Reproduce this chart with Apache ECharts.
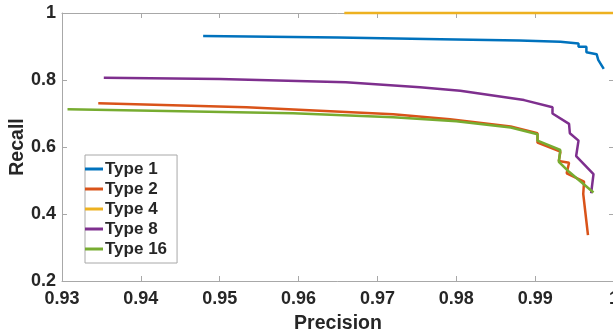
<!DOCTYPE html>
<html>
<head>
<meta charset="utf-8">
<script src="https://cdn.jsdelivr.net/npm/echarts@6/dist/echarts.min.js"></script>
<style>
html,body{margin:0;padding:0;background:#fff;}
#c{width:613px;height:335px;}
</style>
</head>
<body>
<div id="c"></div>
<script>
const seriesNames = ['Type 1', 'Type 2', 'Type 4', 'Type 8', 'Type 16'];
const xTickLabels = ['0.93', '0.94', '0.95', '0.96', '0.97', '0.98', '0.99', '1'];
const yTickLabels = ['0.2', '0.4', '0.6', '0.8', '1'];

const type1 = [[0.9479,0.931],[0.965,0.927],[0.978,0.922],[0.988,0.918],[0.9932,0.914],[0.9955,0.909],[0.9955,0.899],[0.9965,0.899],[0.9965,0.883],[0.9978,0.877],[0.9980,0.860],[0.9987,0.833]];
const type2 = [[0.9346,0.7305],[0.9534,0.7185],[0.972,0.6976],[0.9792,0.683],[0.9869,0.661],[0.9903,0.641],[0.9903,0.613],[0.9932,0.586],[0.9930,0.558],[0.9943,0.553],[0.9940,0.5215],[0.9962,0.4964],[0.9961,0.4597],[0.9967,0.337]];
const type4 = [[0.9658,1.0],[1.0,1.0]];
const type8 = [[0.9353,0.807],[0.950,0.803],[0.966,0.793],[0.9754,0.778],[0.9805,0.768],[0.9886,0.740],[0.9922,0.7185],[0.9922,0.700],[0.9943,0.669],[0.9944,0.641],[0.9955,0.619],[0.9952,0.573],[0.9974,0.519],[0.9971,0.462]];
const type16 = [[0.9307,0.7125],[0.9593,0.7006],[0.972,0.6887],[0.980,0.677],[0.9869,0.658],[0.9903,0.638],[0.9903,0.619],[0.9932,0.591],[0.9930,0.556],[0.9943,0.526],[0.9974,0.464]];

const colors = ['#0072BD', '#D95319', '#EDB120', '#7E2F8E', '#77AC30'];
const allData = [type1, type2, type4, type8, type16];

const txt = '#262626';
const axisGray = '#a8a8a8';
const font = 'Liberation Sans, Arial, Helvetica, sans-serif';

const xFmt = v => xTickLabels[Math.round((v - 0.93) / 0.01)] ?? '';
const yFmt = v => yTickLabels[Math.round((v - 0.2) / 0.2)] ?? '';

const baseX = {
  type: 'value', min: 0.93, max: 1, interval: 0.01,
  axisLine: {show: true, onZero: false, lineStyle: {color: axisGray, width: 1}},
  axisTick: {show: true, inside: true, length: 5, lineStyle: {color: axisGray}},
  splitLine: {show: false}
};
const baseY = {
  type: 'value', min: 0.2, max: 1, interval: 0.2,
  axisLine: {show: true, onZero: false, lineStyle: {color: axisGray, width: 1}},
  axisTick: {show: true, inside: true, length: 5, lineStyle: {color: axisGray}},
  splitLine: {show: false}
};

const chart = echarts.init(document.getElementById('c'), null, {renderer: 'canvas'});
chart.setOption({
  animation: false,
  backgroundColor: '#fff',
  grid: {left: 62, right: -1, top: 13, bottom: 54, containLabel: false, outerBoundsMode: 'none'},
  xAxis: [
    Object.assign({}, baseX, {
      position: 'bottom',
      name: 'Precision', nameLocation: 'middle', nameGap: 33, nameMoveOverlap: false,
      nameTextStyle: {color: txt, fontSize: 19.5, fontWeight: 'bold', fontFamily: font},
      axisLabel: {show: true, margin: 9, color: txt, fontSize: 18, fontWeight: 'bold', fontFamily: font, formatter: xFmt, showMaxLabel: true, showMinLabel: true}
    }),
    Object.assign({}, baseX, {position: 'top', axisLabel: {show: false}})
  ],
  yAxis: [
    Object.assign({}, baseY, {
      position: 'left',
      name: 'Recall', nameLocation: 'middle', nameGap: 34, nameMoveOverlap: false,
      nameTextStyle: {color: txt, fontSize: 19.5, fontWeight: 'bold', fontFamily: font},
      axisLabel: {show: true, margin: 6, color: txt, fontSize: 18, fontWeight: 'bold', fontFamily: font, formatter: yFmt}
    }),
    Object.assign({}, baseY, {position: 'right', axisLabel: {show: false}})
  ],
  legend: {
    show: true,
    orient: 'vertical',
    left: 85, top: 155,
    padding: [4, 10, 4, 0],
    itemGap: 0,
    itemWidth: 18, itemHeight: 3,
    icon: 'rect',
    backgroundColor: '#fff',
    borderColor: '#a8a8a8', borderWidth: 1, borderRadius: 0,
    textStyle: {color: txt, fontSize: 17, fontWeight: 'bold', fontFamily: font, lineHeight: 20, padding: [0, 0, 0, -3]},
    data: seriesNames
  },
  series: seriesNames.map((n, i) => ({
    name: n,
    type: 'line',
    data: allData[i],
    showSymbol: false,
    symbol: 'none',
    clip: false,
    lineStyle: {color: colors[i], width: 2.5},
    itemStyle: {color: colors[i]},
    z: 2 + i
  }))
});
</script>
</body>
</html>
